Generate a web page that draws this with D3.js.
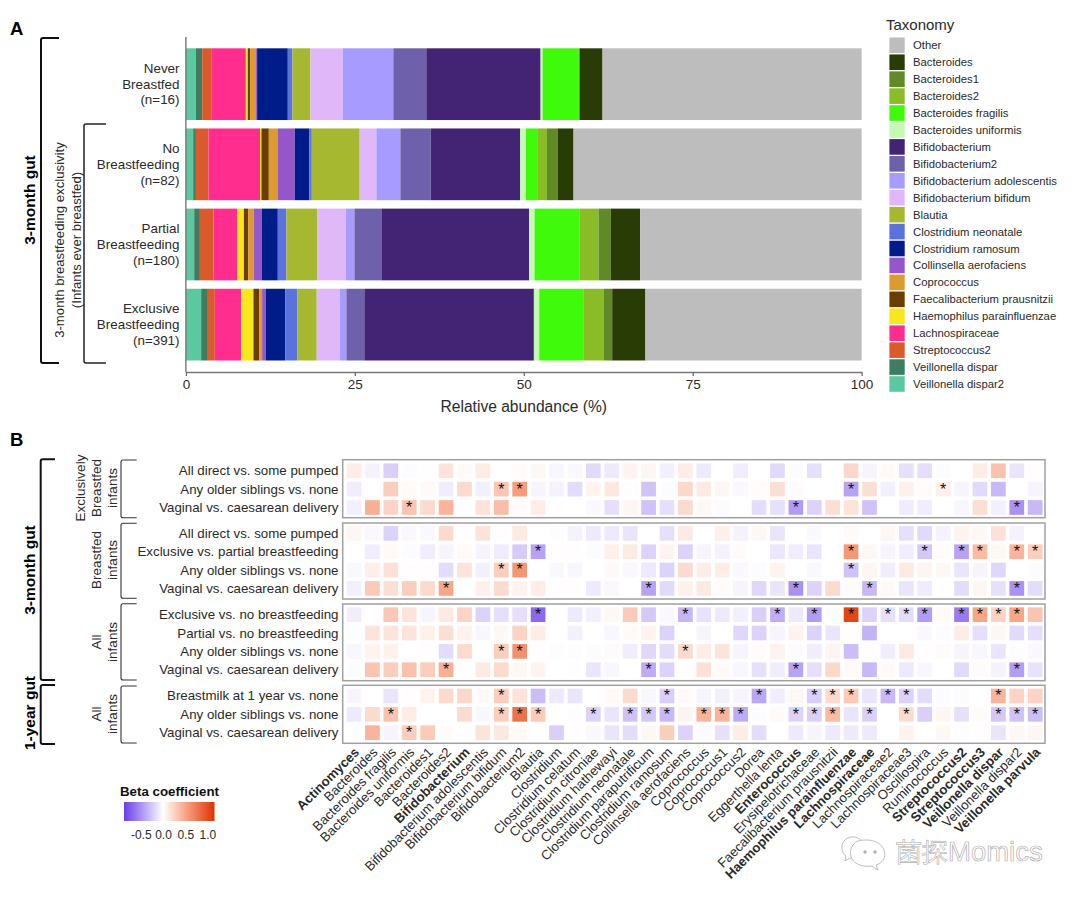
<!DOCTYPE html>
<html>
<head>
<meta charset="utf-8">
<script src="https://cdnjs.cloudflare.com/ajax/libs/d3/7.8.5/d3.min.js"></script>
<style>
html,body{margin:0;padding:0;background:#fff}
svg{display:block}
text{font-family:"Liberation Sans",Arial,sans-serif}
</style>
</head>
<body>
<svg id="c" width="1080" height="897"></svg>
<script>
// ---------- Panel A data (percent, left to right along the bar) ----------
const taxaLegend = ["Other","Bacteroides","Bacteroides1","Bacteroides2","Bacteroides fragilis","Bacteroides uniformis","Bifidobacterium","Bifidobacterium2","Bifidobacterium adolescentis","Bifidobacterium bifidum","Blautia","Clostridium neonatale","Clostridium ramosum","Collinsella aerofaciens","Coprococcus","Faecalibacterium prausnitzii","Haemophilus parainfluenzae","Lachnospiraceae","Streptococcus2","Veillonella dispar","Veillonella dispar2"];
const taxaColors = ["#bdbdbd","#2a3c06","#5f8a25","#8abc28","#3ffa0a","#c6f9b4","#432373","#6e60aa","#a79bff","#e0b8fa","#a5b82f","#5b72dc","#001c88","#9456c8","#dd9a2e","#6b3e00","#f8e71c","#ff2e8e","#db5a2c","#3e7d62","#5bc8a0"];
const barGroups = [["Never","Breastfed","(n=16)"],["No","Breastfeeding","(n=82)"],["Partial","Breastfeeding","(n=180)"],["Exclusive","Breastfeeding","(n=391)"]];
const neverBreastfed = [1.47,.94,1.43,5.03,.29,.35,.88,.15,4.54,.69,2.66,4.78,7.49,4.88,16.91,.3,5.37,.05,.04,3.41,38.34];
const noBreastfeeding = [1.08,.40,1.87,7.63,.20,1.09,1.28,2.56,2.17,.35,7.09,2.47,3.55,4.49,13.25,.84,1.78,1.33,1.57,2.37,42.63];
const partialBreastfeeding = [1.23,.84,2.02,3.54,.95,.63,.84,1.18,2.37,1.28,4.58,4.19,1.29,3.99,21.88,.79,6.7,2.77,1.82,4.34,32.77];
const exclusiveBreastfeeding = [2.26,.99,1.03,3.9,1.82,.84,.44,.54,2.91,1.78,2.85,3.45,.94,2.66,25.09,.79,6.61,2.9,1.29,4.92,31.99];
const barSeries = [neverBreastfed,noBreastfeeding,partialBreastfeeding,exclusiveBreastfeeding];
const xTicks = [0,25,50,75,100];

// ---------- Panel B data (beta coefficients; one array per comparison) ----------
const genera = ["Actinomyces","Bacteroides","Bacteroides fragilis","Bacteroides uniformis","Bacteroides1","Bacteroides2","Bifidobacterium","Bifidobacterium adolescentis","Bifidobacterium bifidum","Bifidobacterium2","Blautia","Clostridium","Clostridium celatum","Clostridium citroniae","Clostridium hathewayi","Clostridium neonatale","Clostridium paraputrificum","Clostridium ramosum","Collinsella aerofaciens","Coprococcus","Coprococcus1","Coprococcus2","Dorea","Eggerthella lenta","Enterococcus","Erysipelotrichaceae","Faecalibacterium prausnitzii","Haemophilus parainfluenzae","Lachnospiraceae","Lachnospiraceae2","Lachnospiraceae3","Oscillospira","Ruminococcus","Streptococcus2","Streptococcus3","Veillonella dispar","Veillonella dispar2","Veillonella parvula"];
const boldGenera = ["Actinomyces","Bifidobacterium","Enterococcus","Haemophilus parainfluenzae","Lachnospiraceae","Streptococcus2","Streptococcus3","Veillonella dispar","Veillonella parvula"];

const ebDirect = [.1,-.06,-.22,-.02,.005,.15,.03,.1,0,.02,.04,-.04,-.03,-.17,-.1,.07,.05,-.07,.1,-.1,0,-.08,0,-.17,-.02,-.14,0,.22,-.05,.03,-.14,-.15,-.02,0,.1,.35,-.12,.01];
const ebSiblings = [-.08,0,.28,.03,.03,-.08,.2,-.07,.32,.55,-.05,-.06,-.16,.07,.13,-.01,-.27,-.02,.22,.12,.05,-.03,.02,.18,.02,0,0,-.42,.18,-.07,.08,.02,.09,-.05,-.17,-.32,0,-.05];
const ebDelivery = [-.07,.45,.25,.33,.2,.42,0,.16,.37,.02,.1,.01,0,-.03,-.15,.05,-.28,-.15,.2,.04,-.02,0,-.16,-.14,-.45,-.2,.18,.16,-.28,0,-.09,-.08,0,-.04,.18,-.07,-.5,-.32];
const bfDirect = [.05,-.03,-.2,-.03,-.03,.2,.01,.15,.01,.12,0,-.01,-.06,-.1,-.1,-.12,0,-.14,.12,0,.09,-.06,.04,-.12,0,-.03,0,.03,0,.05,-.14,-.17,-.06,.07,.04,.17,-.06,0];
const bfExclusive = [0,-.08,.03,-.02,-.08,-.05,.03,-.05,-.09,-.24,-.42,.01,.01,-.02,.08,.12,-.2,.06,-.2,-.05,-.06,.02,0,-.11,-.08,-.12,0,.58,.04,-.05,-.08,-.25,.02,-.42,.38,.04,.42,.28];
const bfSiblings = [-.03,.09,.17,.01,.01,-.16,.15,-.07,.28,.6,0,-.03,-.04,0,.03,-.03,-.1,-.2,.2,.1,.1,-.03,-.02,.07,0,-.03,0,-.28,.05,-.08,.12,.06,.04,-.12,-.05,-.18,0,-.02];
const bfDelivery = [-.07,.3,.18,.28,.2,.5,0,.08,.2,.07,.1,.01,.01,-.1,-.03,0,-.42,-.17,.08,.12,.02,-.05,-.18,-.12,-.5,-.2,.2,.02,-.32,.03,-.12,-.09,0,-.16,.05,-.14,-.5,-.16];
const allExclusive = [-.08,0,.32,.15,-.05,.12,.25,-.2,-.15,-.15,-.68,0,-.1,-.07,.04,.3,-.25,-.03,-.33,-.13,-.1,-.07,-.22,-.37,-.1,-.45,-.01,1.05,-.2,-.14,-.16,-.45,.03,-.6,.5,.25,.5,.33];
const allPartial = [-.01,.15,.15,.15,.08,.18,.08,-.04,.04,.25,.1,0,-.07,0,-.04,.03,.07,-.2,0,-.05,0,-.18,-.2,-.05,.07,-.2,-.12,.01,-.35,0,0,-.03,-.02,.1,-.15,.04,-.17,-.15];
const allSiblings = [-.04,.07,.08,0,.01,-.16,.2,0,.28,.62,.01,-.01,-.01,-.02,.02,-.08,-.18,-.16,.2,.1,.15,-.05,.02,.07,-.02,-.08,.06,-.3,.01,-.08,.12,.01,.02,-.05,-.04,-.12,-.01,-.03];
const allDelivery = [-.02,.33,.28,.35,.28,.45,0,.12,.2,.04,.07,0,.01,-.12,-.04,0,-.38,-.2,.01,.17,.03,-.04,-.14,-.08,-.42,-.15,.22,.03,-.32,.03,-.1,-.04,0,-.17,.02,-.06,-.45,-.13];
const yrBreastmilk = [-.05,0,-.12,.01,.07,.2,.22,.03,.28,.15,-.3,-.1,-.12,0,.03,.2,-.04,-.22,.03,-.05,-.07,-.05,-.4,-.08,.04,-.22,.2,.3,-.12,-.32,-.2,-.16,-.02,-.02,0,.42,.25,.25];
const yrSiblings = [-.1,.2,.33,.1,0,0,.2,-.04,.28,.8,.3,0,-.01,-.2,-.12,-.28,-.25,-.32,.07,.42,.42,-.38,-.02,.03,-.2,-.22,.38,-.12,-.22,0,.2,-.22,.05,-.14,.02,-.25,-.28,-.3];
const yrDelivery = [0,.42,-.05,.28,.3,.02,.01,.15,.13,.03,0,-.22,.01,-.03,-.12,-.16,.04,.28,-.2,-.02,-.14,.1,-.16,0,-.1,-.05,-.1,-.1,-.1,0,.07,0,.04,-.01,.01,-.12,.04,.05];

// significant cells: indices into genera
const ebSiblingsStars = [8,9,27,32];
const ebDeliveryStars = [3,24,36];
const bfExclusiveStars = [10,27,31,33,34,36,37];
const bfSiblingsStars = [8,9,27];
const bfDeliveryStars = [5,16,24,28,36];
const allExclusiveStars = [10,18,23,25,27,29,30,31,33,34,35,36];
const allSiblingsStars = [8,9,18];
const allDeliveryStars = [5,16,24,36];
const yrBreastmilkStars = [8,17,22,25,26,27,29,30,35];
const yrSiblingsStars = [2,8,9,10,13,15,16,17,19,20,21,24,25,26,28,30,35,36,37];
const yrDeliveryStars = [3];

const heatPanels = [
 {top:461.6,rows:[["All direct vs. some pumped",ebDirect,[]],["Any older siblings vs. none",ebSiblings,ebSiblingsStars],["Vaginal vs. caesarean delivery",ebDelivery,ebDeliveryStars]],box:[459.7,517.7]},
 {top:524.2,rows:[["All direct vs. some pumped",bfDirect,[]],["Exclusive vs. partial breastfeeding",bfExclusive,bfExclusiveStars],["Any older siblings vs. none",bfSiblings,bfSiblingsStars],["Vaginal vs. caesarean delivery",bfDelivery,bfDeliveryStars]],box:[523,599]},
 {top:605.5,rows:[["Exclusive vs. no breastfeeding",allExclusive,allExclusiveStars],["Partial vs. no breastfeeding",allPartial,[]],["Any older siblings vs. none",allSiblings,allSiblingsStars],["Vaginal vs. caesarean delivery",allDelivery,allDeliveryStars]],box:[604,680.7]},
 {top:686.8,rows:[["Breastmilk at 1 year vs. none",yrBreastmilk,yrBreastmilkStars],["Any older siblings vs. none",yrSiblings,yrSiblingsStars],["Vaginal vs. caesarean delivery",yrDelivery,yrDeliveryStars]],box:[685.3,743.3]}
];

const legendTicks = [-0.5,0,0.5,1];

// ---------- shared ----------
const svg = d3.select("#c");
const TXT = "#2a2a2a";
function label(x,y,t,o={}){
  return svg.append("text").attr("x",x).attr("y",y).text(t)
    .attr("font-size",o.size||13).attr("fill",o.fill||TXT)
    .attr("font-weight",o.bold?"bold":"normal")
    .attr("text-anchor",o.anchor||"start");
}
function vlabel(x,y,t,o={}){
  return svg.append("text").attr("transform",`translate(${x},${y}) rotate(-90)`).text(t)
    .attr("font-size",o.size||13).attr("fill",o.fill||TXT)
    .attr("font-weight",o.bold?"bold":"normal").attr("text-anchor","middle");
}
function bracket(x,y0,y1,x2,w,col){
  svg.append("path").attr("fill","none").attr("stroke",col||"#111").attr("stroke-width",w||1.8)
    .attr("d",`M${x2},${y0}H${x+2}Q${x},${y0} ${x},${y0+2}V${y1-2}Q${x},${y1} ${x+2},${y1}H${x2}`);
}

// ---------- Panel A ----------
label(10,35,"A",{size:18.5,bold:true,fill:"#000"});
const x = d3.scaleLinear().domain([0,100]).range([185.9,861.6]);
const y = d3.scaleBand().domain(d3.range(barGroups.length)).range([44.1,364.7]).paddingInner(.105).paddingOuter(.0525);
const stackKeys = taxaLegend.slice().reverse();
const color = d3.scaleOrdinal().domain(taxaLegend).range(taxaColors);
const table = barSeries.map(s=>Object.fromEntries(stackKeys.map((k,i)=>[k,s[i]])));
const stacked = d3.stack().keys(stackKeys)(table);
svg.append("g").selectAll("g").data(stacked).join("g").attr("fill",d=>color(d.key))
  .selectAll("rect").data(d=>d.map((v,i)=>({v,i}))).join("rect")
  .attr("x",d=>x(d.v[0])).attr("width",d=>x(d.v[1])-x(d.v[0]))
  .attr("y",d=>y(d.i)).attr("height",y.bandwidth());

const xAxis = svg.append("g").attr("transform","translate(0,372)")
  .call(d3.axisBottom(x).tickValues(xTicks).tickSize(4).tickSizeOuter(0));
xAxis.select(".domain").attr("stroke","#777").attr("stroke-width",1.4);
xAxis.selectAll(".tick line").attr("stroke","#666").attr("stroke-width",1.2);
xAxis.selectAll("text").attr("font-size",13.5).attr("fill",TXT).attr("y",7).attr("font-family","Liberation Sans");
svg.append("line").attr("x1",x(0)).attr("x2",x(0)).attr("y1",37).attr("y2",372).attr("stroke","#777").attr("stroke-width",1.4);
label((x(0)+x(100))/2,412,"Relative abundance (%)",{size:15.6,anchor:"middle"});

barGroups.forEach((lines,i)=>{
  const cy = y(i)+y.bandwidth()/2;
  lines.forEach((t,j)=>label(179.5,cy+(j-1)*15.7+4.5,t,{size:13.4,anchor:"end"}));
});

bracket(41,38,363,59,2);
bracket(84,124,363,106,1.5,"#222");
vlabel(35,200,"3-month gut",{size:15.5,bold:true,fill:"#000"});
vlabel(64,240,"3-month breastfeeding exclusivity",{size:13.2});
vlabel(81,240,"(Infants ever breastfed)",{size:13.2});

// taxonomy legend
label(886,30,"Taxonomy",{size:15});
const legY = d3.scalePoint().domain(taxaLegend).range([45.3,384]);
const legG = svg.append("g");
legG.selectAll("rect").data(taxaLegend).join("rect")
  .attr("x",889.4).attr("width",15.3).attr("y",d=>legY(d)-7.8).attr("height",15.6).attr("fill",d=>color(d));
legG.selectAll("text").data(taxaLegend).join("text")
  .attr("x",913).attr("y",d=>legY(d)+4).attr("font-size",11.3).attr("fill",TXT).text(d=>d);

// ---------- Panel B ----------
label(10,446,"B",{size:18.5,bold:true,fill:"#000"});
const hx = d3.scaleBand().domain(genera).range([344.8,1044.4]).paddingInner(.2).paddingOuter(.1);
const hColor = d3.scaleLinear().domain([-.88,0,.5,1.16]).range(["#6a3de8","#ffffff","#f8a688","#dd3300"]).clamp(true);
const STEP = 18.35;
heatPanels.forEach(p=>{
  const hy = d3.scaleBand().domain(p.rows.map((r,i)=>i)).range([p.top,p.top+STEP*p.rows.length]).paddingInner(.2).paddingOuter(.1);
  const g = svg.append("g");
  p.rows.forEach((r,i)=>{
    const cy = hy(i)+hy.bandwidth()/2;
    g.append("g").selectAll("rect").data(r[1]).join("rect")
      .attr("x",(d,j)=>hx(genera[j])).attr("y",hy(i))
      .attr("width",hx.bandwidth()).attr("height",hy.bandwidth())
      .attr("fill",d=>hColor(d));
    g.append("g").selectAll("text").data(r[2]).join("text")
      .attr("x",d=>hx(genera[d])+hx.bandwidth()/2).attr("y",cy+5.4)
      .attr("text-anchor","middle").attr("font-size",16).attr("fill","#111").text("*");
    label(338.5,cy+4.5,r[0],{size:13.3,anchor:"end"});
  });
  g.append("rect").attr("x",342.7).attr("width",702.3).attr("y",p.box[0]).attr("height",p.box[1]-p.box[0])
    .attr("fill","none").attr("stroke","#a0a0a0").attr("stroke-width",1.5);
});

// genus labels
svg.append("g").selectAll("text").data(genera).join("text")
  .attr("transform",d=>`translate(${hx(d)+hx.bandwidth()/2+6},${753}) rotate(-45)`)
  .attr("text-anchor","end").attr("font-size",13.2).attr("fill",TXT)
  .attr("font-weight",d=>boldGenera.includes(d)?"bold":"normal").text(d=>d);

// outer brackets and side labels
bracket(40.7,459.3,680,55,2);
bracket(40.7,685,744,55,2);
vlabel(35,570,"3-month gut",{size:15.5,bold:true,fill:"#000"});
vlabel(35,713,"1-year gut",{size:15.5,bold:true,fill:"#000"});
bracket(121,460,517.7,136.7,1.1,"#333");
bracket(121,523.3,598.3,136.7,1.1,"#333");
bracket(121,603.7,680,136.7,1.1,"#333");
bracket(121,686,743,136.7,1.1,"#333");
vlabel(85,488,"Exclusively",{size:13.5});
vlabel(101,488,"Breastfed",{size:13.5});
vlabel(117,488,"infants",{size:13.5});
vlabel(101,560,"Breastfed",{size:13.5});
vlabel(117,560,"infants",{size:13.5});
vlabel(101,642,"All",{size:13.5});
vlabel(117,642,"infants",{size:13.5});
vlabel(101,714,"All",{size:13.5});
vlabel(117,714,"infants",{size:13.5});

// colour legend
label(120,796,"Beta coefficient",{size:13.3,bold:true,fill:"#111"});
const lx = d3.scaleLinear().domain([-.88,1.16]).range([124,214.5]);
const defs = svg.append("defs");
const grad = defs.append("linearGradient").attr("id","beta");
hColor.domain().forEach(v=>{
  grad.append("stop").attr("offset",(v+.88)/2.04).attr("stop-color",hColor(v));
});
svg.append("rect").attr("x",lx(-.88)).attr("y",802).attr("width",lx(1.16)-lx(-.88)).attr("height",19).attr("fill","url(#beta)");
const lAxis = svg.append("g").attr("transform","translate(0,821)")
  .call(d3.axisBottom(lx).tickValues(legendTicks).tickSize(0).tickFormat(d=>d.toFixed(1)));
lAxis.select(".domain").remove();
lAxis.selectAll("text").attr("font-size",12).attr("fill",TXT).attr("y",9).attr("font-family","Liberation Sans");

// watermark
const wm = svg.append("g").attr("fill","#fff").attr("stroke","#b5b5b5").attr("stroke-width",.9);
wm.append("path").attr("d","M864,846c-1-6-7-10-13-9c-6,1-10,6-9,12c0,3,2,6,4,7l-1,5l5-3c2,0,4,0,6,0");
wm.append("path").attr("d","M858,841c7,-2 22,-2 26,9c3,8 -2,13 -8,15l2,5l-6,-4c-6,1 -16,0 -20,-7c-4,-8 0,-15 6,-18z");
wm.append("circle").attr("cx",865).attr("cy",852).attr("r",1.3).attr("fill","#aaa");
wm.append("circle").attr("cx",875).attr("cy",852).attr("r",1.3).attr("fill","#aaa");
svg.append("text").attr("x",896).attr("y",861).text("菌探")
  .attr("font-family","Noto Sans CJK SC").attr("font-size",26).attr("font-weight",300)
  .attr("fill","#fff").attr("stroke","#b0b0b0").attr("stroke-width",.6);
svg.append("text").attr("x",948).attr("y",861).text("Momics")
  .attr("font-family","Lato").attr("font-size",27.5).attr("font-weight",300)
  .attr("fill","#fff").attr("stroke","#b0b0b0").attr("stroke-width",.7);
</script>
</body>
</html>
